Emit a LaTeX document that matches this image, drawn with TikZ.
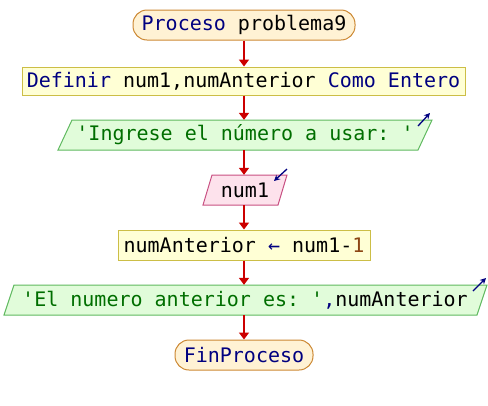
\documentclass[tikz,border=0pt]{standalone}
\usepackage{fontspec}
\setmonofont{DejaVu Sans Mono}
\usetikzlibrary{arrows.meta}
\definecolor{kw}{RGB}{0,0,128}
\definecolor{str}{RGB}{0,110,0}
\definecolor{numc}{RGB}{140,70,20}
\definecolor{termfill}{RGB}{255,242,212}
\definecolor{termdraw}{RGB}{204,136,51}
\definecolor{procfill}{RGB}{255,255,213}
\definecolor{procdraw}{RGB}{204,190,70}
\definecolor{outfill}{RGB}{225,252,218}
\definecolor{outdraw}{RGB}{95,185,95}
\definecolor{infill}{RGB}{253,226,236}
\definecolor{indraw}{RGB}{200,80,130}
\definecolor{flow}{RGB}{204,0,0}
\tikzset{
  base/.style={font=\ttfamily\fontsize{20}{22}\selectfont, inner sep=0pt, minimum height=30pt},
  term/.style={base, draw=termdraw, fill=termfill, line width=1pt, rounded corners=14pt},
  proc/.style={base, draw=procdraw, fill=procfill, line width=1pt, minimum height=28pt},
  iotext/.style={base},
  outshape/.style={draw=outdraw, fill=outfill, line width=1pt},
  inshape/.style={draw=indraw, fill=infill, line width=1pt},
  flowarrow/.style={draw=flow, line width=1.6pt, -{Triangle[length=7pt,width=10pt]}},
  icon/.style={draw=kw, line width=1.3pt, -{Stealth[length=6pt,width=6pt]}}
}
\begin{document}
\begin{tikzpicture}[x=1pt,y=-1pt]
\useasboundingbox (0,0) rectangle (488,405);
% io shapes
\draw[outshape] (58,150) -- (72,120) -- (432,120) -- (418,150) -- cycle;
\draw[inshape] (203,205) -- (212,175) -- (287,175) -- (278,205) -- cycle;
\draw[outshape] (4,315) -- (14,285) -- (487,285) -- (477,315) -- cycle;
% nodes
\node[term, minimum width=222pt] (a) at (244,25) {\textcolor{kw}{Proceso} problema9};
\node[proc, minimum width=443pt] (b) at (243.5,81) {\textcolor{kw}{Definir} num1,numAnterior \textcolor{kw}{Como Entero}};
\node[iotext, minimum width=360pt] (c) at (245,135) {\textcolor{str}{'Ingrese el número a usar: '}};
\node[iotext, minimum width=66pt] (d) at (245,190) {num1};
\node[proc, minimum width=252pt, minimum height=30pt] (e) at (244,245) {numAnterior \textcolor{kw}{←} num1-\textcolor{numc}{1}};
\node[iotext, minimum width=464pt] (f) at (245,300) {\textcolor{str}{'El numero anterior es: '}\textcolor{kw}{,}numAnterior};
\node[term, minimum width=138pt] (g) at (244,355) {\textcolor{kw}{FinProceso}};
% icons
\coordinate (c1) at (418,126); \coordinate (c2) at (430,113);
\draw[icon] (c1) -- (c2);
\coordinate (d1) at (287,169); \coordinate (d2) at (274,181);
\draw[icon] (d1) -- (d2);
\coordinate (f1) at (473,291); \coordinate (f2) at (486,278);
\draw[icon] (f1) -- (f2);
% connectors
\draw[flowarrow] (a.south -| 244,0) -- (b.north -| 244,0);
\draw[flowarrow] (b.south -| 244,0) -- (c.north -| 244,0);
\draw[flowarrow] (c.south -| 244,0) -- (d.north -| 244,0);
\draw[flowarrow] (d.south -| 244,0) -- (e.north -| 244,0);
\draw[flowarrow] (e.south -| 244,0) -- (f.north -| 244,0);
\draw[flowarrow] (f.south -| 244,0) -- (g.north -| 244,0);
\end{tikzpicture}
\end{document}
